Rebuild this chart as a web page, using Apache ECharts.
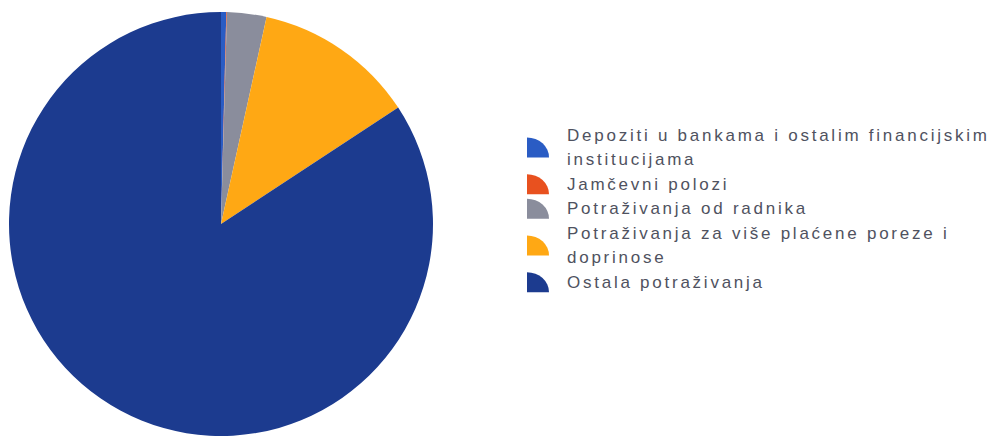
<!DOCTYPE html>
<html><head><meta charset="utf-8">
<script src="https://cdn.jsdelivr.net/npm/echarts@6/dist/echarts.min.js"></script>
<style>html,body{margin:0;padding:0;background:#fff}#c{width:990px;height:437px}#c text{letter-spacing:2.75px}</style>
</head><body><div id="c"></div>
<script>
var categories = ['Depoziti u bankama i ostalim financijskim institucijama','Jamčevni polozi','Potraživanja od radnika','Potraživanja za više plaćene poreze i doprinose','Ostala potraživanja'];
var legendLabels = ['Depoziti u bankama i ostalim financijskim\ninstitucijama','Jamčevni polozi','Potraživanja od radnika','Potraživanja za više plaćene poreze i\ndoprinose','Ostala potraživanja'];
var shares = [0.4, 0.05, 3.0, 12.3, 84.25];
var colors = ['#2a5cc4','#e8511f','#8a8d9c','#ffa814','#1c3b8f'];

var chart = echarts.init(document.getElementById('c'), null, {renderer:'svg'});
chart.setOption({
  animation:false,
  color: colors,
  legend:{
    orient:'vertical', left:527, top:123, padding:0,
    itemWidth:22, itemHeight:20, itemGap:0,
    icon:'path://M0,0 A22,20 0 0 1 22,20 L0,20 Z',
    formatter:function(n){return legendLabels[categories.indexOf(n)];},
    textStyle:{fontFamily:'Liberation Sans', fontSize:17, color:'#4f5260', lineHeight:24.5, padding:[0,0,0,13]},
    data: categories
  },
  series:[{
    type:'pie', center:[221,224], radius:[0,212], startAngle:90, clockwise:true,
    label:{show:false}, labelLine:{show:false}, emphasis:{disabled:true},
    itemStyle:{borderWidth:0},
    data: categories.map(function(c,i){return {name:c, value:shares[i]};})
  }]
});
</script></body></html>
